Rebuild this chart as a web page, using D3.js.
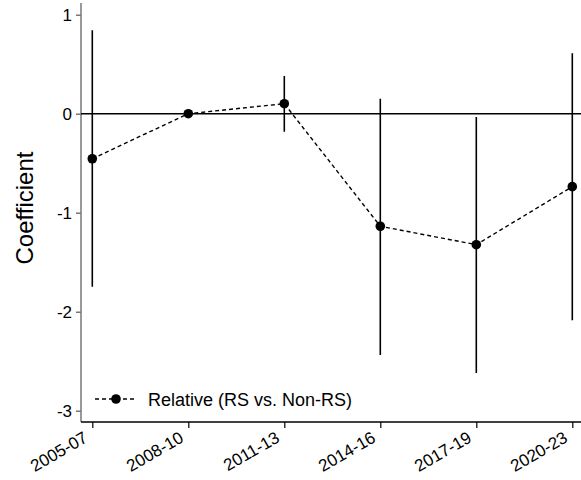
<!DOCTYPE html>
<html>
<head>
<meta charset="utf-8">
<script src="https://cdn.jsdelivr.net/npm/d3@7/dist/d3.min.js"></script>
<style>
  html, body { margin: 0; padding: 0; background: #fff; }
  svg { display: block; font-family: "Liberation Sans", Arial, Helvetica, sans-serif; }
</style>
</head>
<body>
<svg id="chart" width="581" height="480"></svg>
<script>
// Period groups on the x axis
const periods = ["2005-07", "2008-10", "2011-13", "2014-16", "2017-19", "2020-23"];
// Point estimates (relative effect, RS vs. Non-RS)
const coef = [-0.455, 0.0, 0.101, -1.137, -1.323, -0.737];
// 95% confidence bounds
const ciLow  = [-1.747, 0.0, -0.182, -2.437, -2.619, -2.087];
const ciHigh = [0.842, 0.0, 0.381, 0.152, -0.033, 0.610];
// Y axis tick values
const yTicks = [1, 0, -1, -2, -3];

const svg = d3.select("#chart");
const plot = { left: 81, right: 581, top: 3, bottom: 422 };

const x = d3.scalePoint()
  .domain(periods)
  .range([92.3, 572.3]);

const y = d3.scaleLinear()
  .domain([-3, 1])
  .range([410.7, 14.7]);

const rows = periods.map((p, i) => ({ p, c: coef[i], lo: ciLow[i], hi: ciHigh[i] }));

// Y axis
const yAxis = svg.append("g")
  .attr("transform", `translate(${plot.left},0)`)
  .call(d3.axisLeft(y).tickValues(yTicks).tickSize(5).tickPadding(4).tickFormat(d3.format("d")));
yAxis.select(".domain").remove();
yAxis.selectAll(".tick line").attr("stroke", "#555").attr("stroke-width", 1.2);
yAxis.selectAll(".tick text")
  .attr("font-size", 17).attr("fill", "#000")
  .text(d => d < 0 ? "-" + Math.abs(d) : d);
svg.append("line")
  .attr("x1", plot.left).attr("x2", plot.left)
  .attr("y1", plot.top).attr("y2", plot.bottom)
  .attr("stroke", "#777").attr("stroke-width", 1.5);

// X axis
const xAxis = svg.append("g")
  .attr("transform", `translate(0,${plot.bottom})`)
  .call(d3.axisBottom(x).tickSize(6).tickPadding(4));
xAxis.select(".domain").remove();
xAxis.selectAll(".tick line").attr("stroke", "#000").attr("stroke-width", 1.2);
xAxis.selectAll(".tick text")
  .attr("font-size", 17).attr("fill", "#000")
  .attr("text-anchor", "end")
  .attr("x", 0).attr("y", 0).attr("dy", "0")
  .attr("transform", "translate(-4,19) rotate(-30)");
svg.append("line")
  .attr("x1", plot.left).attr("x2", plot.right)
  .attr("y1", plot.bottom).attr("y2", plot.bottom)
  .attr("stroke", "#000").attr("stroke-width", 1.5);

// Zero reference line
svg.append("line")
  .attr("x1", plot.left).attr("x2", plot.right)
  .attr("y1", y(0)).attr("y2", y(0))
  .attr("stroke", "#000").attr("stroke-width", 1.6);

// Confidence intervals
svg.append("g").selectAll("line")
  .data(rows.filter(d => d.hi !== d.lo))
  .join("line")
  .attr("x1", d => x(d.p)).attr("x2", d => x(d.p))
  .attr("y1", d => y(d.hi)).attr("y2", d => y(d.lo))
  .attr("stroke", "#000").attr("stroke-width", 1.6);

// Connecting dashed line
svg.append("path")
  .datum(rows)
  .attr("fill", "none")
  .attr("stroke", "#000")
  .attr("stroke-width", 1.4)
  .attr("stroke-dasharray", "4,3")
  .attr("d", d3.line().x(d => x(d.p)).y(d => y(d.c)));

// Point estimates
svg.append("g").selectAll("circle")
  .data(rows)
  .join("circle")
  .attr("cx", d => x(d.p)).attr("cy", d => y(d.c))
  .attr("r", 4.8).attr("fill", "#000");

// Y axis title
svg.append("text")
  .attr("transform", "translate(33,208) rotate(-90)")
  .attr("text-anchor", "middle")
  .attr("font-size", 24)
  .attr("fill", "#000")
  .text("Coefficient");

// Legend
const lg = svg.append("g").attr("transform", "translate(95,399)");
lg.append("line")
  .attr("x1", 0).attr("x2", 42).attr("y1", 0).attr("y2", 0)
  .attr("stroke", "#000").attr("stroke-width", 1.4).attr("stroke-dasharray", "4,3");
lg.append("circle").attr("cx", 21).attr("cy", 0).attr("r", 4.8).attr("fill", "#000");
lg.append("text")
  .attr("x", 53).attr("y", 7)
  .attr("font-size", 18).attr("fill", "#000")
  .text("Relative (RS vs. Non-RS)");
</script>
</body>
</html>
